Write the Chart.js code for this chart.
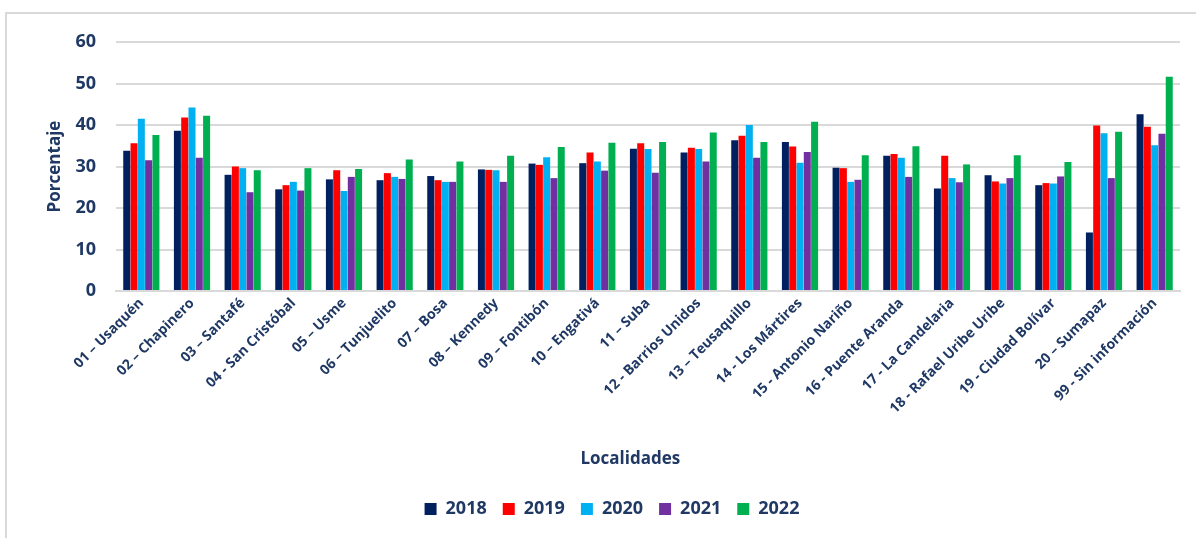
<!DOCTYPE html>
<html lang="es">
<head>
    <meta charset="UTF-8">
    <title>Porcentaje por localidad</title>
    <script src="https://cdn.jsdelivr.net/npm/chart.js"></script>
    <style>
        body { margin: 0; background: #fff; }
        .container { position: relative; width: 1196px; height: 538px; overflow: hidden; }
        .marco { position: absolute; left: 5px; top: 12px; width: 1400px; height: 700px; border: 2px solid #d9d9d9; }
        .container canvas { position: absolute; left: 0; top: 0; }
    </style>
</head>
<body>
    <div class="container">
        <div class="marco"></div>
        <canvas id="grafico" width="1196" height="538"></canvas>
    </div>
</body>
</html>
<script>
// localidades
const localidades = ['01 – Usaquén', '02 – Chapinero', '03 – Santafé', '04 - San Cristóbal', '05 – Usme',
  '06 – Tunjuelito', '07 – Bosa', '08 – Kennedy', '09 – Fontibón', '10 – Engativá', '11 – Suba',
  '12 - Barrios Unidos', '13 – Teusaquillo', '14 - Los Mártires', '15 - Antonio Nariño',
  '16 - Puente Aranda', '17 - La Candelaria', '18 - Rafael Uribe Uribe', '19 - Ciudad Bolívar',
  '20 – Sumapaz', '99 - Sin información']

// porcentajes por año
const v2018 = [33.8, 38.6, 28.0, 24.5, 26.9, 26.7, 27.7, 29.3, 30.7, 30.8, 34.3, 33.4, 36.3, 35.9, 29.7, 32.6, 24.7, 27.9, 25.5, 14.1, 42.6]
const v2019 = [35.6, 41.8, 30.0, 25.5, 29.1, 28.4, 26.7, 29.2, 30.4, 33.4, 35.6, 34.5, 37.4, 34.8, 29.6, 33.0, 32.6, 26.4, 26.0, 39.9, 39.6]
const v2020 = [41.5, 44.2, 29.6, 26.3, 24.1, 27.5, 26.3, 29.1, 32.2, 31.2, 34.2, 34.2, 40.0, 30.9, 26.3, 32.1, 27.2, 25.9, 25.9, 38.0, 35.1]
const v2021 = [31.5, 32.1, 23.8, 24.2, 27.5, 27.0, 26.3, 26.3, 27.2, 29.0, 28.5, 31.2, 32.1, 33.5, 26.8, 27.5, 26.2, 27.2, 27.6, 27.2, 37.9]
const v2022 = [37.6, 42.2, 29.1, 29.6, 29.4, 31.7, 31.2, 32.6, 34.7, 35.7, 35.9, 38.2, 35.9, 40.8, 32.7, 34.9, 30.5, 32.7, 31.1, 38.4, 51.6]

const anos = ['2018', '2019', '2020', '2021', '2022']
const ticksY = [0, 10, 20, 30, 40, 50, 60]

const azul = '#1f3864'
const fuente = "'Open Sans', 'Liberation Sans', sans-serif"

const colores = ['#002060', '#ff0000', '#00b0f0', '#7030a0', '#00b050']
const valores = [v2018, v2019, v2020, v2021, v2022]

const ctx = document.getElementById('grafico')

const grafico = new Chart(ctx, {
  type: 'bar',
  data: {
    labels: localidades,
    datasets: anos.map((ano, i) => ({
      label: ano,
      data: valores[i],
      backgroundColor: colores[i],
      borderWidth: 0,
      categoryPercentage: 0.72,
      barPercentage: 0.96
    }))
  },
  options: {
    responsive: false,
    animation: false,
    layout: { padding: { top: 42, right: 16, bottom: 10, left: 44 } },
    plugins: {
      tooltip: { enabled: false },
      legend: {
        position: 'bottom',
        labels: {
          color: azul,
          font: { family: fuente, size: 18, weight: 'bold' },
          boxWidth: 12,
          boxHeight: 12,
          padding: 16
        }
      }
    },
    scales: {
      x: {
        grid: { display: false, drawTicks: false },
        border: { color: '#d9d9d9', width: 2 },
        ticks: {
          color: azul,
          font: { family: fuente, size: 14, weight: 'bold' },
          maxRotation: 45,
          minRotation: 45,
          padding: 4,
          autoSkip: false
        },
        title: {
          display: true,
          // espacios al final para correr el titulo un poco a la izquierda
          text: 'Localidades\u00a0\u00a0\u00a0\u00a0\u00a0\u00a0\u00a0\u00a0',
          color: azul,
          font: { family: fuente, size: 17, weight: 'bold' },
          padding: { top: 0, bottom: 15 }
        },
        afterFit: scale => { scale.height = 193 }
      },
      y: {
        min: 0,
        max: 60,
        afterBuildTicks: scale => { scale.ticks = ticksY.map(v => ({ value: v })) },
        grid: { color: '#d9d9d9', lineWidth: 2, drawTicks: false },
        border: { display: false },
        ticks: {
          color: azul,
          font: { family: fuente, size: 18, weight: 'bold' },
          padding: 20
        },
        title: {
          display: true,
          text: 'Porcentaje',
          color: azul,
          font: { family: fuente, size: 17, weight: 'bold' },
          padding: { top: 1, bottom: 0 }
        },
        afterFit: scale => { scale.width = 72 }
      }
    }
  }
})
</script>
